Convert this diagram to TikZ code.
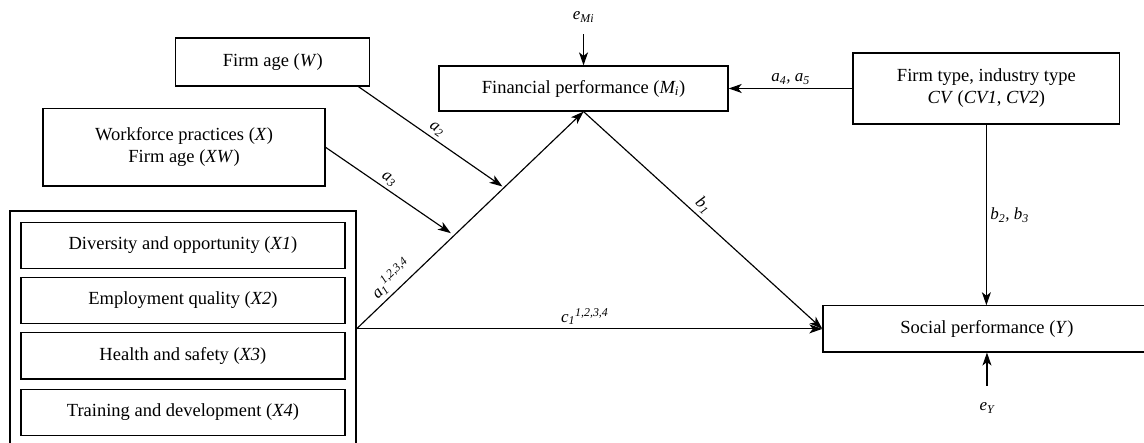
\documentclass[tikz,border=0pt]{standalone}
\usepackage{fontspec}
\setmainfont{Liberation Serif}
\usetikzlibrary{arrows.meta, positioning, calc}

\begin{document}
\begin{tikzpicture}[
  >={Stealth[length=13pt, width=9pt, inset=3.5pt]},
  box/.style={draw, line width=1.25pt, inner sep=2pt, align=center,
    font=\fontsize{18.5}{22}\selectfont},
  lbl/.style={font=\fontsize{17}{20}\selectfont\itshape},
  conn/.style={line width=1.15pt},
]

% Canvas
\useasboundingbox (0,0) rectangle (40.21,15.57);

% ========================================
% Boxes
% ========================================
\node[box, minimum width=6.82cm, minimum height=1.69cm] (firmage) at (9.59,13.39)
  {Firm age (\textit{W})};
\node[box, minimum width=9.91cm, minimum height=2.71cm] (work) at (6.47,10.39)
  {Workforce practices (\textit{X})\\Firm age (\textit{XW})};
\node[box, minimum width=10.16cm, minimum height=1.58cm] (fin) at (20.51,12.46)
  {Financial performance (\textit{M\textsubscript{i}})};
\node[box, minimum width=9.38cm, minimum height=2.50cm] (cv) at (34.67,12.46)
  {Firm type, industry type\\\textit{CV} (\textit{CV1}, \textit{CV2})};
\node[box, minimum width=11.53cm, minimum height=1.62cm] (social) at (34.69,4.01)
  {Social performance (\textit{Y})};

% Dimensions of workforce practices
\node[box, minimum width=12.16cm, minimum height=8.29cm] (dims) at (6.43,4.01) {};
\node[box, minimum width=11.39cm, minimum height=1.62cm] (x1) at (6.43,6.94)
  {Diversity and opportunity (\textit{X1})};
\node[box, minimum width=11.39cm, minimum height=1.62cm] (x2) at (6.43,5.01)
  {Employment quality (\textit{X2})};
\node[box, minimum width=11.39cm, minimum height=1.62cm] (x3) at (6.43,3.06)
  {Health and safety (\textit{X3})};
\node[box, minimum width=11.39cm, minimum height=1.62cm] (x4) at (6.43,1.07)
  {Training and development (\textit{X4})};

% Error terms
\node[lbl] (emi) at (20.51,14.97) {e\textsubscript{Mi}};
\node[lbl] (ey) at (34.69,1.23) {e\textsubscript{Y}};

% ========================================
% Paths
% ========================================
\coordinate (ma2) at ($(dims.east)!0.65!(fin.south)$);
\coordinate (ma3) at ($(dims.east)!0.43!(fin.south)$);

% X -> M
\draw[conn, ->] (dims.east) -- node[lbl, sloped, above, pos=0.19]
  {a\textsubscript{1}\textsuperscript{1,2,3,4}} (fin.south);

% Moderation
\draw[conn, ->, shorten >=2pt] ([xshift=-12pt]firmage.south east)
  -- node[lbl, sloped, above] {a\textsubscript{2}} (ma2);
\draw[conn, ->, shorten >=4pt] (work.east)
  -- node[lbl, sloped, above, pos=0.45] {a\textsubscript{3}} (ma3);

% M -> Y and X -> Y
\draw[conn, ->] (fin.south) -- node[lbl, sloped, above, pos=0.47] {b\textsubscript{1}} (social.west);
\draw[conn, ->] (dims.east) -- node[lbl, above, pos=0.49]
  {c\textsubscript{1}\textsuperscript{1,2,3,4}} (social.west);

% Controls
\draw[conn, ->] (cv.west) -- node[lbl, above] {a\textsubscript{4}, a\textsubscript{5}} (fin.east);
\draw[conn, ->] (cv.south) -- node[lbl, right] {b\textsubscript{2}, b\textsubscript{3}}
  (cv.south |- social.north);

% Errors
\draw[conn, <-] (fin.north) -- ++(0,1.09);
\draw[conn, <-] (social.south) -- ++(0,-1.16);

\end{tikzpicture}
\end{document}
